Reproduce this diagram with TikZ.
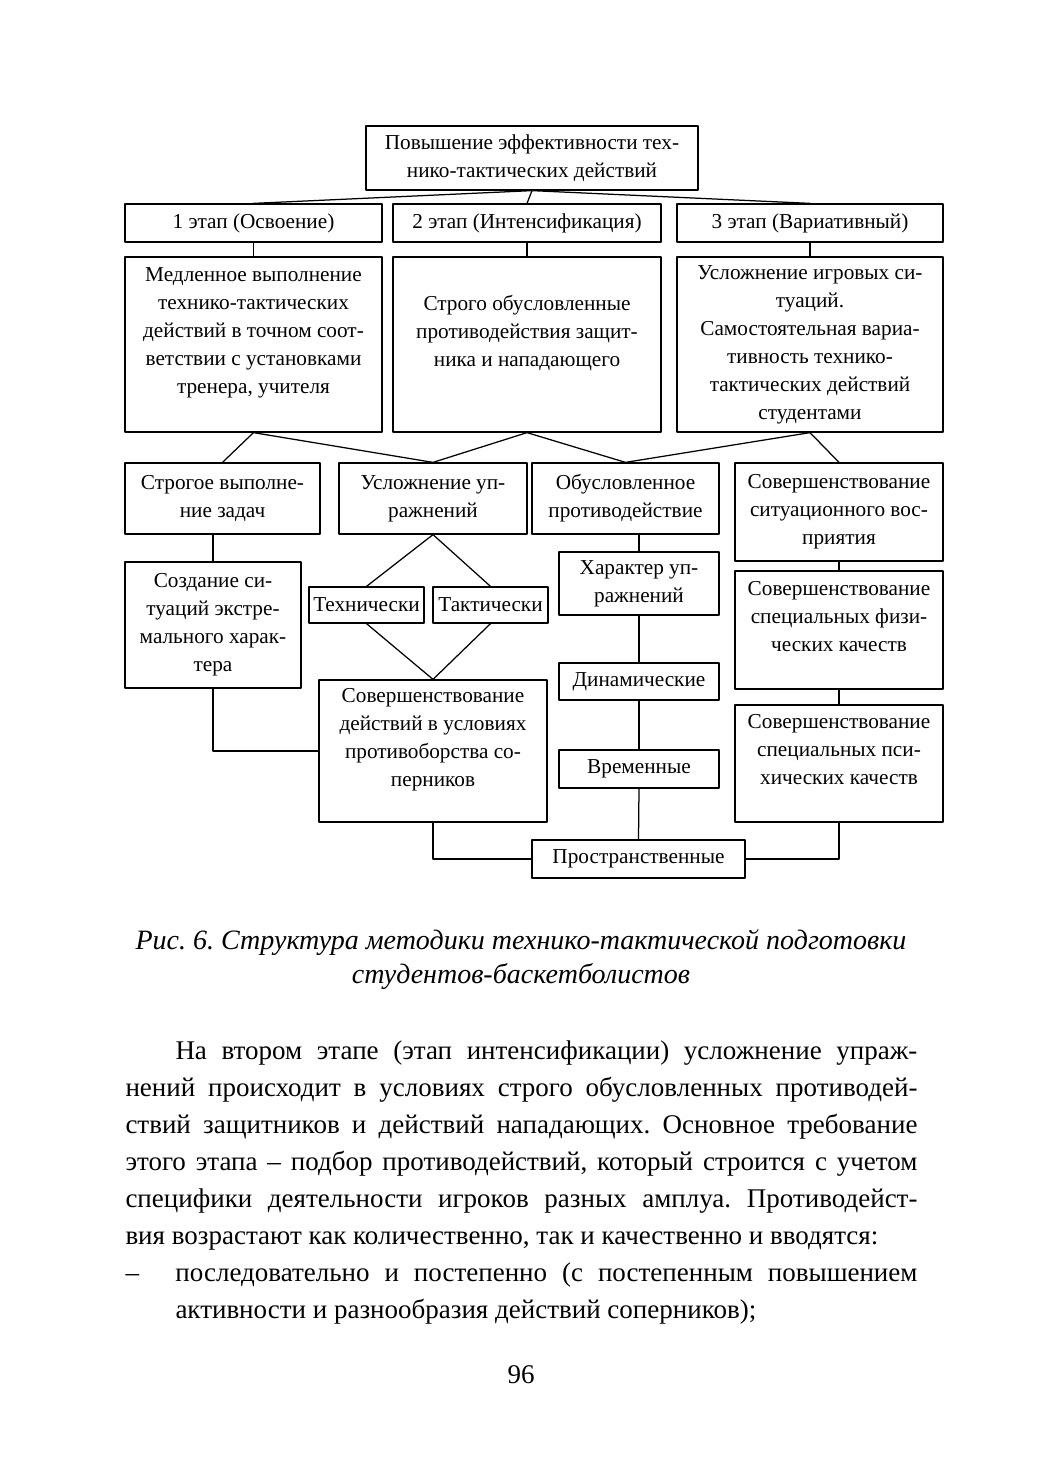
\documentclass[tikz,border=0pt]{standalone}
\usepackage{fontspec}
\setmainfont{Liberation Serif}
\frenchspacing
\begin{document}
\begin{tikzpicture}[x=0.4pt,y=-0.4pt,line cap=round,line join=round,
  box/.style={draw,line width=0.5pt,inner sep=0pt,align=center,font=\fontsize{8.5}{11.2}\selectfont},
  link/.style={line width=0.5pt}]
\useasboundingbox (0,0) rectangle (1040,1473);
% top
\node[box,minimum width=132.8pt,minimum height=25.6pt] (goal) at (532,158) {Повышение эффективности тех-\\нико-тактических действий};
% stages
\node[box,minimum width=102.8pt,minimum height=15.2pt] (st1) at (253.5,223) {1 этап (Освоение)};
\node[box,minimum width=107.2pt,minimum height=15.2pt] (st2) at (527,223) {2 этап (Интенсификация)};
\node[box,minimum width=106.4pt,minimum height=15.2pt] (st3) at (810,223) {3 этап (Вариативный)};
% stage contents
\node[box,minimum width=102.8pt,minimum height=70pt] (ds1) at (253.5,344.5) {Медленное выполнение\\технико-тактических\\действий в точном соот-\\ветствии с установками\\тренера, учителя\\\mbox{}};
\node[box,minimum width=107.2pt,minimum height=70pt] (ds2) at (527,344.5) {Строго обусловленные\\противодействия защит-\\ника и нападающего\\\mbox{}};
\node[box,minimum width=106.4pt,minimum height=70pt] (ds3) at (810,344.5) {Усложнение игровых си-\\туаций.\\Самостоятельная вариа-\\тивность технико-\\тактических действий\\студентами};
% means
\node[box,minimum width=78pt,minimum height=28.4pt] (strict) at (222.5,498.5) {Строгое выполне-\\ние задач};
\node[box,minimum width=75.2pt,minimum height=28.4pt] (harder) at (433,498.5) {Усложнение уп-\\ражнений};
\node[box,minimum width=74.8pt,minimum height=28.4pt] (cond) at (625.5,498.5) {Обусловленное\\противодействие};
\node[box,minimum width=83.2pt,minimum height=39.2pt] (percep) at (839,512) {Совершенствование\\ситуационного вос-\\приятия};
% left branch
\node[box,minimum width=70.4pt,minimum height=50.4pt] (extreme) at (213,625) {Создание си-\\туаций экстре-\\мального харак-\\тера};
\node[box,minimum width=46pt,minimum height=14.4pt] (tech) at (366.5,605) {Технически};
\node[box,minimum width=46pt,minimum height=14.4pt] (tact) at (490.5,605) {Тактически};
\node[box,minimum width=91.2pt,minimum height=56.8pt] (rival) at (433,751) {Совершенствование\\действий в условиях\\противоборства со-\\перников\\\mbox{}};
% middle branch
\node[box,minimum width=64pt,minimum height=25.2pt] (kind) at (639,583.5) {Характер уп-\\ражнений};
\node[box,minimum width=64pt,minimum height=14.8pt] (dyn) at (639,681.5) {Динамические};
\node[box,minimum width=64pt,minimum height=15.2pt] (temp) at (639,769) {Временные};
\node[box,minimum width=85.2pt,minimum height=15.2pt] (spat) at (638.5,859) {Пространственные};
% right branch
\node[box,minimum width=83.2pt,minimum height=47.2pt] (phys) at (839,630) {Совершенствование\\специальных физи-\\ческих качеств\\\mbox{}};
\node[box,minimum width=83.2pt,minimum height=46.8pt] (psych) at (839,763.5) {Совершенствование\\специальных пси-\\хических качеств\\\mbox{}};
% connectors
\foreach \s in {st1,st2,st3}
  \draw[link] (goal.south) -- (\s.north);
\foreach \i in {1,2,3}
  \draw[link] (st\i.south) -- (ds\i.north);
\draw[link] (strict.north) -- (ds1.south) -- (harder.north) -- (ds2.south) -- (cond.north) -- (ds3.south) -- (percep.north);
\draw[link] (extreme.north |- strict.south) -- (extreme.north);
\draw[link] (extreme.south) |- (rival.west);
\draw[link] (tech.north) -- (harder.south) -- (tact.north);
\draw[link] (tech.south) -- (rival.north) -- (tact.south);
\draw[link] (kind.north |- cond.south) -- (kind.north);
\draw[link] (kind.south) -- (dyn.north);
\draw[link] (dyn.south) -- (temp.north);
\draw[link] (temp.south) -- (spat.north);
\draw[link] (rival.south) |- (spat.west);
\draw[link] (percep.south) -- (phys.north);
\draw[link] (phys.south) -- (psych.north);
\draw[link] (psych.south) |- (spat.east);
% caption and text
\node[align=center,font=\fontsize{11.2}{13.6}\selectfont\itshape] (caption) at (521,960) {Рис. 6. Структура методики технико-тактической подготовки\\студентов-баскетболистов};
\node[anchor=north west,text width=316.8pt,align=justify,inner sep=0pt,font=\fontsize{10.8}{14.8}\selectfont] (body) at (125,1040) {\noindent\hspace*{20pt}На втором этапе (этап интенсификации) усложнение упраж-\linebreak нений происходит в условиях строго обусловленных противодей-\linebreak ствий защитников и действий нападающих. Основное требование\linebreak этого этапа – подбор противодействий, который строится с учетом\linebreak специфики деятельности игроков разных амплуа. Противодейст-\linebreak вия возрастают как количественно, так и качественно и вводятся:\par
\noindent\hangindent=20pt\hangafter=1\makebox[20pt][l]{–}последовательно и постепенно (с постепенным повышением\linebreak активности и разнообразия действий соперников);\par};
\node[font=\fontsize{10.8}{14.8}\selectfont] (page) at (521,1375) {96};
\end{tikzpicture}
\end{document}
